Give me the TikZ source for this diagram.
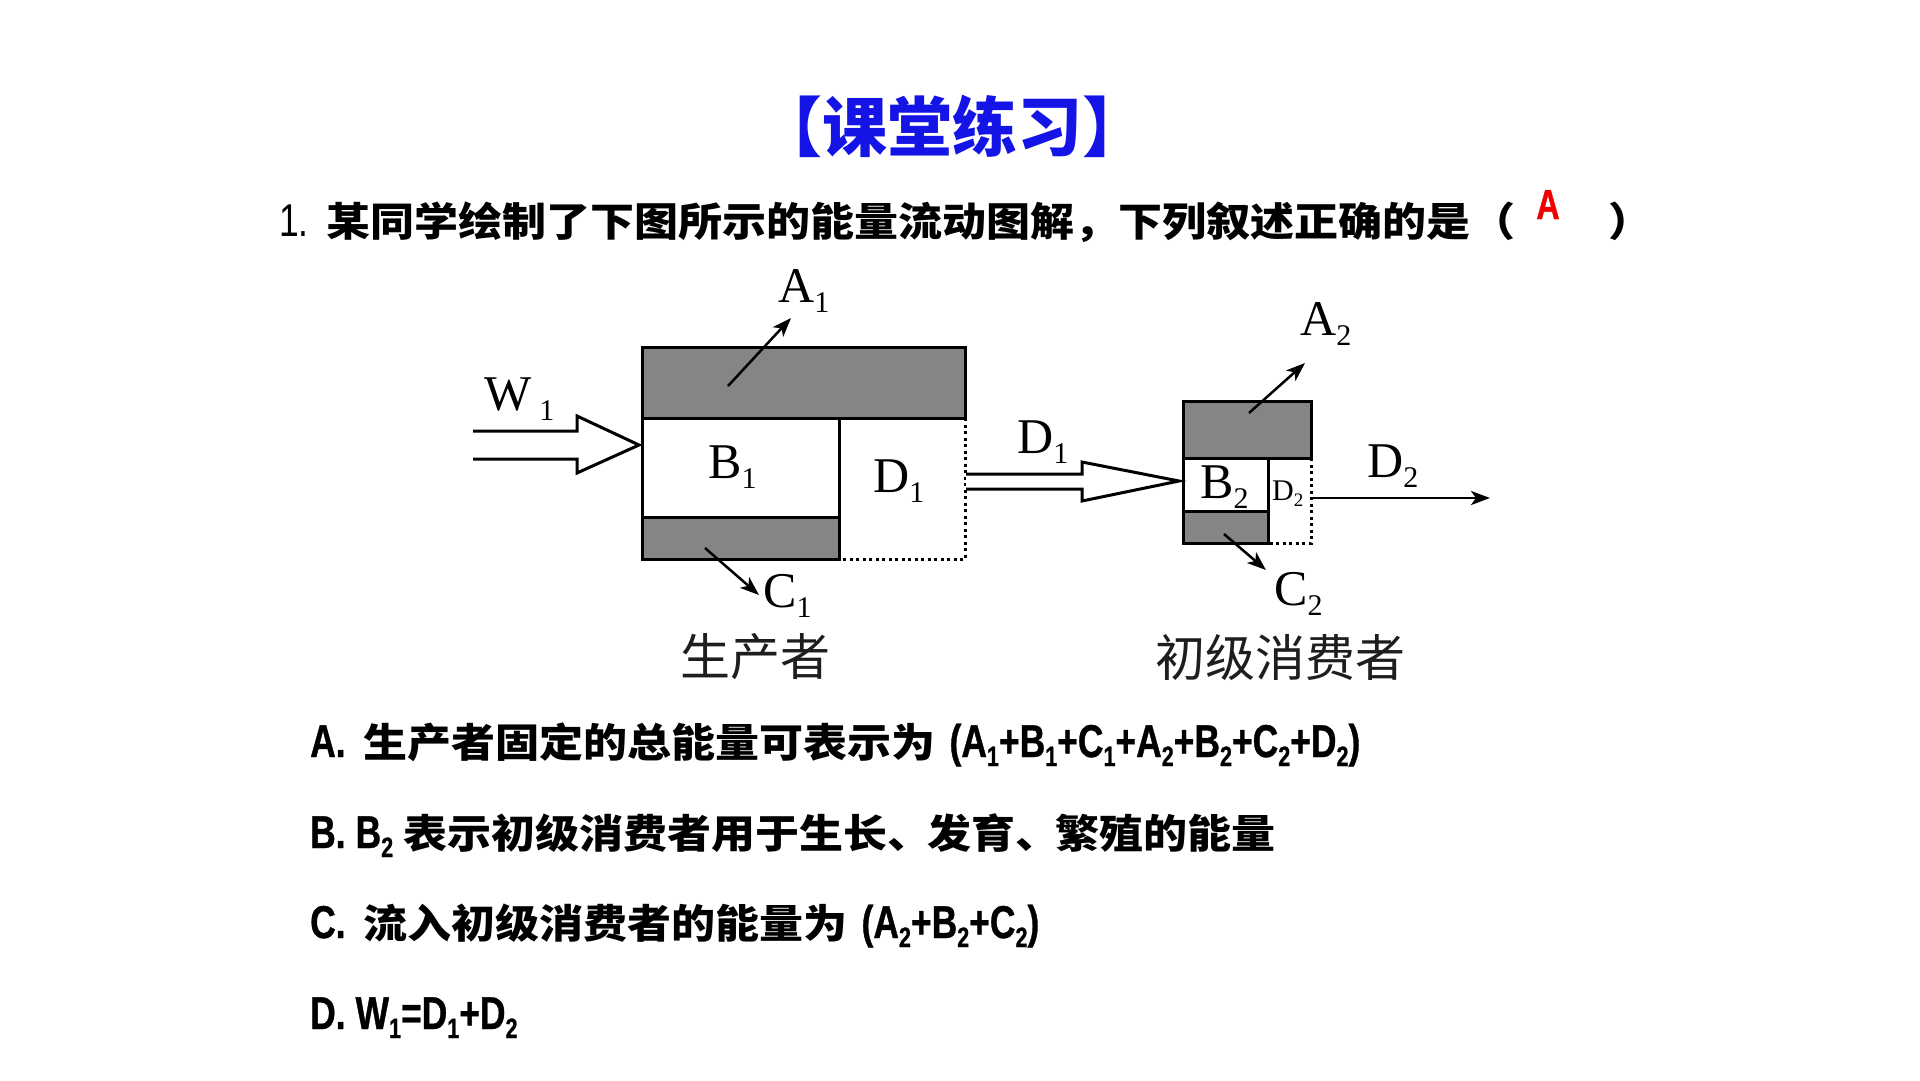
\documentclass[tikz,border=0pt]{standalone}
\usepackage{fontspec}
\usetikzlibrary{arrows.meta}
\newfontfamily\cjk{Noto Sans CJK SC}
\newfontfamily\cjkw{Noto Sans CJK SC}[FakeStretch=1.1]
\newfontfamily\latn{Liberation Sans}[FakeStretch=0.77, BoldFeatures={FakeBold=0.8}]
\newfontfamily\tms{Liberation Serif}
\definecolor{titleblue}{RGB}{20,20,230}
\definecolor{boxgray}{RGB}{133,133,133}
\definecolor{ansred}{RGB}{240,0,0}
\definecolor{lblgray}{RGB}{30,30,30}
\newcommand\dsub[1]{\raisebox{-10pt}{\fontsize{30}{30}\selectfont #1}}
\newcommand\ssub[1]{\raisebox{-6pt}{\fontsize{19}{19}\selectfont #1}}
\newcommand\osub[1]{\raisebox{-9pt}{\fontsize{28}{28}\selectfont #1}}
\newcommand\hdun{\makebox[40pt][l]{、}}
\tikzset{
  boxline/.style={line width=3pt, line join=miter},
  dotline/.style={line width=3pt, dash pattern=on 3pt off 3.5pt},
  hollow/.style={line width=3pt, fill=white, line join=miter},
  flow/.style={line width=2.5pt, -{Stealth[length=19pt,width=14pt,inset=5pt]}},
  dlabel/.style={anchor=base west, inner sep=0pt, font=\tms\fontsize{50}{60}\selectfont},
  opt/.style={anchor=base west, inner sep=0pt, font=\fontsize{40}{48}\selectfont\bfseries},
  grouplbl/.style={inner sep=0pt, text=lblgray, font=\cjk\fontsize{50}{60}\selectfont},
}
\newcommand\lt[1]{{\latn\bfseries\fontsize{46}{52}\selectfont #1}}
\begin{document}
\begin{tikzpicture}[x=1pt,y=-1pt]
\useasboundingbox[fill=white] (0,0) rectangle (1920,1080);

% title and question
\node[inner sep=0pt, text=titleblue, font=\cjk\bfseries\fontsize{65}{72}\selectfont] (title) at (952,126) {【课堂练习】};
\node[opt] (q) at (279,236) {{\latn\mdseries\fontsize{46}{52}\selectfont 1.}\hspace{18pt}{\cjkw 某同学绘制了下图所示的能量流动图解，下列叙述正确的是}};
\node[anchor=base, inner sep=0pt, font=\cjkw\bfseries\fontsize{40}{48}\selectfont] (lp) at (1493,236) {（};
\node[anchor=base, inner sep=0pt, font=\cjkw\bfseries\fontsize{40}{48}\selectfont] (rp) at (1630,236) {）};
\node[anchor=base, inner sep=0pt, text=ansred, font=\latn\bfseries\fontsize{42}{48}\selectfont] (ans) at (1548,219) {A};

% producer box
\fill[boxgray] (642,347) rectangle (965,418);
\draw[boxline] (642,347) rectangle (965,418);
\fill[boxgray] (642,517) rectangle (839,559);
\draw[boxline] (642,517) rectangle (839,559);
\draw[boxline] (642,418) -- (642,517);
\draw[boxline] (839,418) -- (839,517);
\draw[dotline] (965,418) -- (965,559) -- (839,559);

% consumer box
\fill[boxgray] (1183,401) rectangle (1311,458);
\draw[boxline] (1183,401) rectangle (1311,458);
\fill[boxgray] (1183,511) rectangle (1268,543);
\draw[boxline] (1183,511) rectangle (1268,543);
\draw[boxline] (1183,458) -- (1183,511);
\draw[boxline] (1268,458) -- (1268,511);
\draw[dotline] (1311,458) -- (1311,543) -- (1268,543);

% hollow arrows
\draw[hollow] (473,431) -- (577,431) -- (577,416) -- (639,445) -- (577,473) -- (577,459) -- (473,459);
\draw[hollow] (966,474) -- (1082,474) -- (1082,462) -- (1179,481) -- (1082,501) -- (1082,489) -- (966,489);

% thin arrows
\coordinate (a1s) at (728,386); \coordinate (a1e) at (791,318);
\coordinate (c1s) at (705,548); \coordinate (c1e) at (759,595);
\coordinate (a2s) at (1249,413); \coordinate (a2e) at (1305,363);
\coordinate (c2s) at (1224,534); \coordinate (c2e) at (1266,570);
\coordinate (d2s) at (1312,498); \coordinate (d2e) at (1490,498);
\draw[flow] (a1s) -- (a1e);
\draw[flow] (c1s) -- (c1e);
\draw[flow] (a2s) -- (a2e);
\draw[flow] (c2s) -- (c2e);
\draw[flow] (d2s) -- (d2e);

% diagram labels
\node[dlabel] (w1) at (484,410) {W\hspace{8pt}\dsub{1}};
\node[dlabel] (la1) at (778,302) {A\dsub{1}};
\node[dlabel] (lb1) at (708,478) {B\dsub{1}};
\node[dlabel] (ld1) at (873,492) {D\dsub{1}};
\node[dlabel] (ld1b) at (1017,453) {D\dsub{1}};
\node[dlabel] (lc1) at (763,607) {C\dsub{1}};
\node[dlabel] (la2) at (1300,335) {A\dsub{2}};
\node[dlabel] (lb2) at (1200,498) {B\dsub{2}};
\node[dlabel, font=\tms\fontsize{30}{36}\selectfont] (ld2s) at (1272,500) {D\ssub{2}};
\node[dlabel] (ld2) at (1367,477) {D\dsub{2}};
\node[dlabel] (lc2) at (1274,605) {C\dsub{2}};
\node[grouplbl] (prod) at (755,657) {生产者};
\node[grouplbl] (cons) at (1280,658) {初级消费者};

% options
\node[opt] (oa) at (310,757) {\lt{A.}\hspace{18pt}{\cjkw 生产者固定的总能量可表示为}\hspace{14pt}\lt{(A\osub{1}+B\osub{1}+C\osub{1}+A\osub{2}+B\osub{2}+C\osub{2}+D\osub{2})}};
\node[opt] (ob) at (310,848) {\lt{B.\hspace{10pt}B\osub{2}}\hspace{10pt}{\cjkw 表示初级消费者用于生长\hdun 发育\hdun 繁殖的能量}};
\node[opt] (oc) at (310,938) {\lt{C.}\hspace{18pt}{\cjkw 流入初级消费者的能量为}\hspace{14pt}\lt{(A\osub{2}+B\osub{2}+C\osub{2})}};
\node[opt] (od) at (310,1029) {\lt{D.\hspace{10pt}W\osub{1}=D\osub{1}+D\osub{2}}};
\end{tikzpicture}
\end{document}
